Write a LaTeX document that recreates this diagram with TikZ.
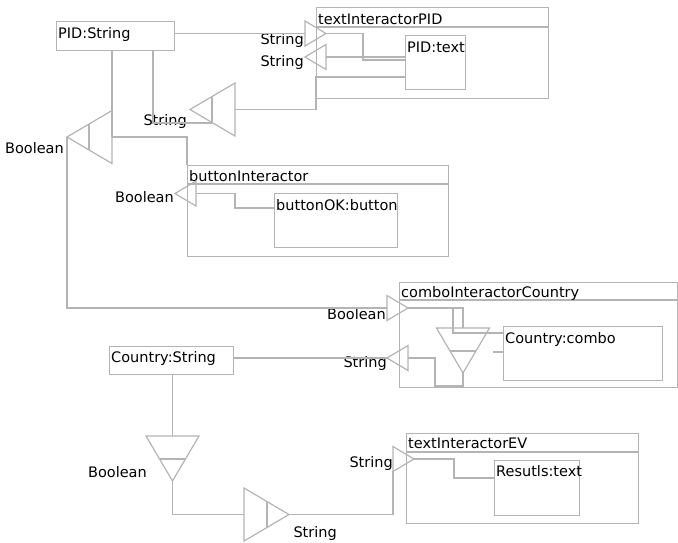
\documentclass[tikz,border=0pt]{standalone}
\usepackage{fontspec}
\setmainfont{DejaVu Sans}
\usepackage{tikz}
\definecolor{wiregray}{HTML}{B4B4B4}
\tikzset{
  wire/.style={draw=wiregray, line width=1.2},
  box/.style={draw=wiregray, line width=1.2, rectangle, anchor=north west, inner sep=0pt},
  boxtxt/.style={anchor=base west, inner sep=0pt, font=\fontsize{14.5}{17}\selectfont},
  lbl/.style={anchor=east, inner sep=0pt, font=\fontsize{14.5}{17}\selectfont},
  pics/conv/.style={code={
    \draw[wire] (0,-26.5) -- (45,0) -- (0,26.5) -- cycle;
    \draw[wire] (23,-13) -- (23,13);
    \coordinate (-base) at (0,0);
    \coordinate (-apex) at (45,0);
  }},
  pics/port/.style={code={
    \draw[wire] (0,-12.5) -- (21,0) -- (0,12.5) -- cycle;
    \coordinate (-base) at (0,0);
    \coordinate (-apex) at (21,0);
  }}
}

\begin{document}
\begin{tikzpicture}[x=1pt, y=-1pt]
  \useasboundingbox (0,0) rectangle (678,542);
  % boxes
  \node[box, minimum width=118, minimum height=29] (pidstr) at (56,21) {};
  \node[box, minimum width=232, minimum height=91] (tipid) at (316,7) {};
  \node[box, minimum width=60, minimum height=54] (pidtext) at (405,35) {};
  \node[box, minimum width=261, minimum height=91] (btnint) at (187,165) {};
  \node[box, minimum width=123, minimum height=54] (btnok) at (274,193) {};
  \node[box, minimum width=278, minimum height=105] (cbint) at (399,282) {};
  \node[box, minimum width=159, minimum height=54] (cbox) at (503,326) {};
  \node[box, minimum width=124, minimum height=28] (cstr) at (109,346) {};
  \node[box, minimum width=232, minimum height=90] (tiev) at (406,433) {};
  \node[box, minimum width=85, minimum height=55] (resul) at (494,460) {};
  \draw[wire] ([yshift=-20]tipid.north west) -- ([yshift=-20]tipid.north east);
  \draw[wire] ([yshift=-19]btnint.north west) -- ([yshift=-19]btnint.north east);
  \draw[wire] ([yshift=-18]cbint.north west) -- ([yshift=-18]cbint.north east);
  \draw[wire] ([yshift=-19]tiev.north west) -- ([yshift=-19]tiev.north east);
  \node[boxtxt] (pidstr-t) at ([shift={(2,17)}]pidstr.north west) {PID:String};
  \node[boxtxt] (tipid-t) at ([shift={(2,17)}]tipid.north west) {textInteractorPID};
  \node[boxtxt] (pidtext-t) at ([shift={(2,17)}]pidtext.north west) {PID:text};
  \node[boxtxt] (btnint-t) at ([shift={(2,16)}]btnint.north west) {buttonInteractor};
  \node[boxtxt] (btnok-t) at ([shift={(2,17)}]btnok.north west) {buttonOK:button};
  \node[boxtxt] (cbint-t) at ([shift={(2,15)}]cbint.north west) {comboInteractorCountry};
  \node[boxtxt] (cbox-t) at ([shift={(2,17)}]cbox.north west) {Country:combo};
  \node[boxtxt] (cstr-t) at ([shift={(2,16)}]cstr.north west) {Country:String};
  \node[boxtxt] (tiev-t) at ([shift={(2,15)}]tiev.north west) {textInteractorEV};
  \node[boxtxt] (resul-t) at ([shift={(2,16)}]resul.north west) {Resutls:text};

  % ports
  \pic (portA) at (305,33.5) {port};
  \pic[rotate=180] (portB) at (326,57) {port};
  \pic[rotate=180] (portBtn) at (196,193.5) {port};
  \pic (portCB) at (387,308) {port};
  \pic[rotate=180] (portCS) at (408,358) {port};
  \pic (portEV) at (393,459) {port};

  % converters
  \pic[rotate=180] (convC) at (235,109.5) {conv};
  \pic[rotate=180] (convD) at (112,137) {conv};
  \pic[rotate=-90] (convE) at (463,328) {conv};
  \pic[rotate=-90] (convF) at (172.5,436) {conv};
  \pic (convG) at (244,514.5) {conv};
  \coordinate (convCin) at (212,123);
  \coordinate (stub) at (493,352);

  % labels
  \node[lbl] (lsA) at (304,40) {String};
  \node[lbl] (lsB) at (304,62) {String};
  \node[lbl] (lsC) at (187,121) {String};
  \node[lbl] (lbD) at (64,148) {Boolean};
  \node[lbl] (lbBtn) at (174,197) {Boolean};
  \node[lbl] (lbCB) at (386,314) {Boolean};
  \node[lbl] (lsCS) at (387,363) {String};
  \node[lbl] (lbF) at (147,472) {Boolean};
  \node[lbl] (lsG) at (337,533) {String};
  \node[lbl] (lsEV) at (393,463) {String};

  % wires
  \draw[wire] (pidstr.east |- portA-base) -- (portA-base);
  \draw[wire] (portA-apex) -| (363,60) -- (pidtext.west |- 0,60);
  \draw[wire] (pidtext.west |- 0,57) -- (portB-base);
  \draw[wire] (pidtext.west |- 0,77) -| (convC-base -| tipid.west) -- (convC-base);
  \draw[wire] (153,0 |- pidstr.south) |- (convCin);
  \draw[wire] (112,0 |- pidstr.south) -- (convD-base);
  \draw[wire] (convD-base) -| (btnint.north west);
  \draw[wire] (convD-apex) |- (portCB-base);
  \draw[wire] (portBtn-base) -| (235,208) -- (btnok.west |- 0,208);
  \draw[wire] (portCB-apex) -| (convE-base);
  \draw[wire] (portCB-apex) -| (453,333) -- (cbox.west |- 0,333);
  \draw[wire] (stub) -- (cbox.west |- stub);
  \draw[wire] (convE-apex) |- (435,386) |- (portCS-base);
  \draw[wire] (cstr.east |- portCS-apex) -- (portCS-apex);
  \draw[wire] (cstr.south -| convF-base) -- (convF-base);
  \draw[wire] (convF-apex) |- (convG-base);
  \draw[wire] (convG-apex) -| ([yshift=-12]portEV-base);
  \draw[wire] (portEV-apex) -| (454,478) -- (resul.west |- 0,478);
\end{tikzpicture}
\end{document}
